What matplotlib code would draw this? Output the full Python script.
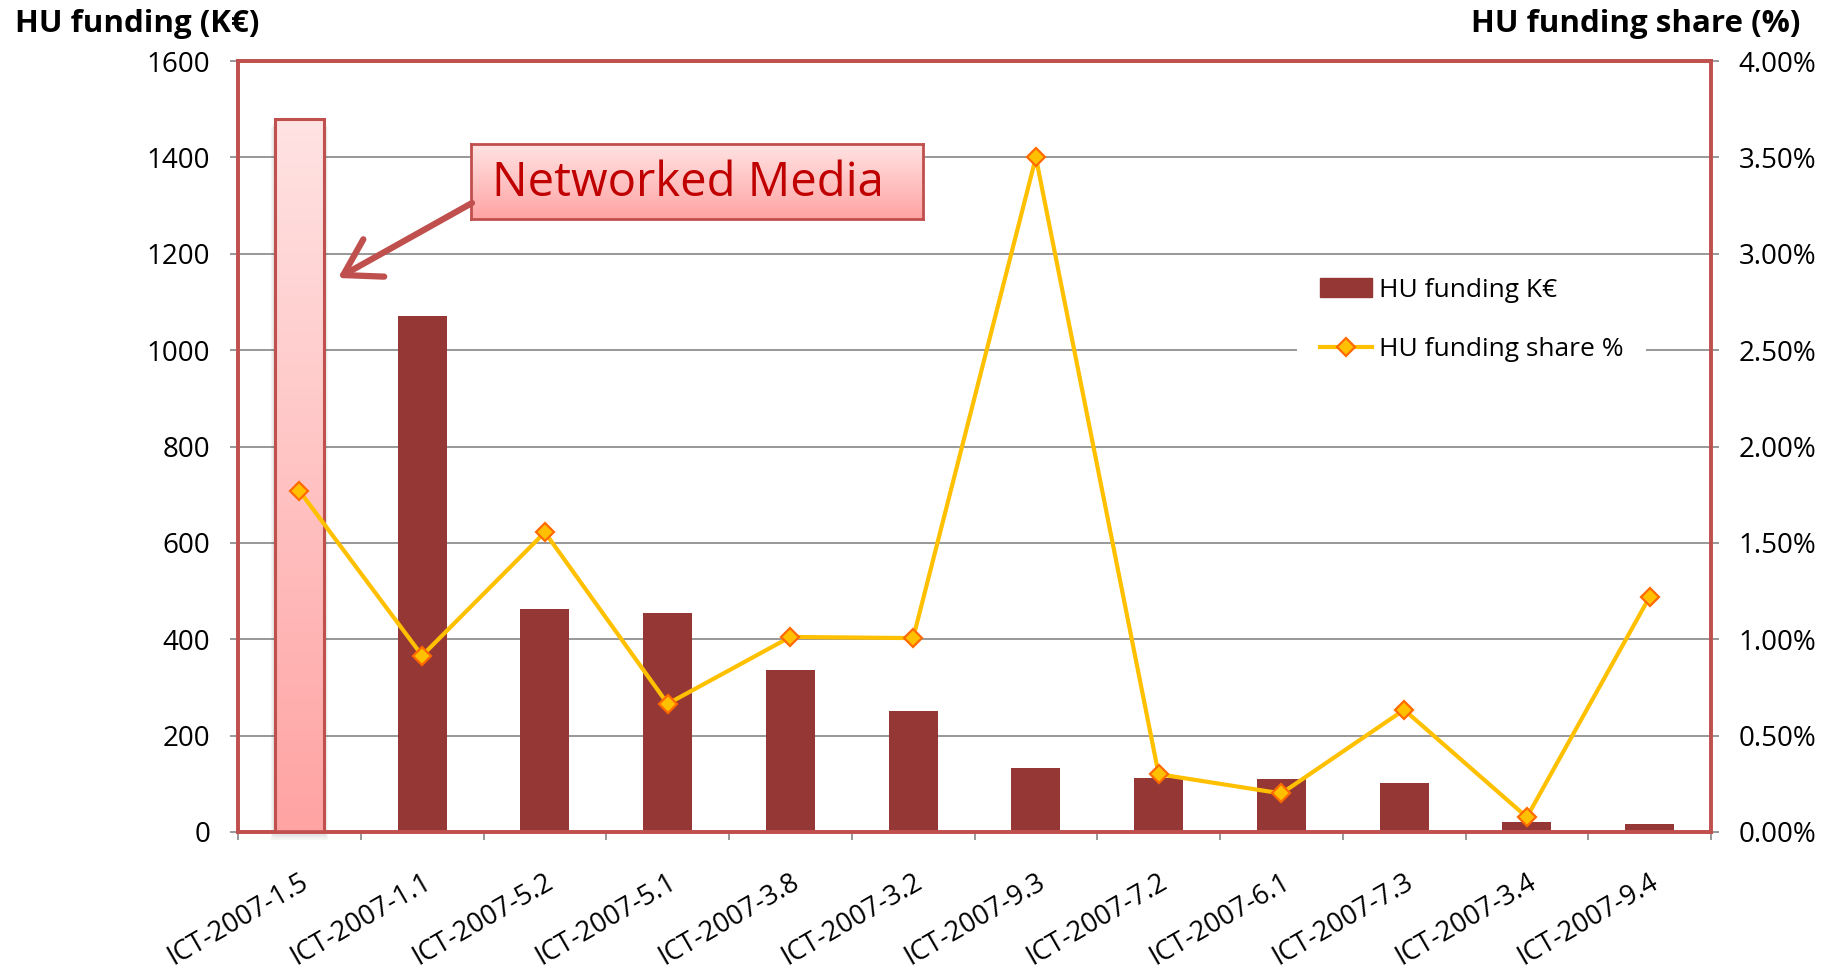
import matplotlib
matplotlib.use("Agg")
import matplotlib.pyplot as plt
import numpy as np
from matplotlib.colors import LinearSegmentedColormap
from matplotlib.lines import Line2D
from matplotlib.patches import FancyArrowPatch, Patch, Rectangle
from matplotlib.ticker import FuncFormatter, MultipleLocator

# datos
CALLS = ["ICT-2007-1.5", "ICT-2007-1.1", "ICT-2007-5.2", "ICT-2007-5.1",
         "ICT-2007-3.8", "ICT-2007-3.2", "ICT-2007-9.3", "ICT-2007-7.2",
         "ICT-2007-6.1", "ICT-2007-7.3", "ICT-2007-3.4", "ICT-2007-9.4"]
FUNDING = [1480, 1071, 462, 454, 337, 252, 132, 113, 110, 102, 21, 16]
SHARE = [1.77, 0.915, 1.555, 0.665, 1.012, 1.006, 3.50, 0.30, 0.20, 0.634, 0.077, 1.22]
HIGHLIGHT = 0
NOTE = "Networked Media"

BAR = "#953735"
FRAME = "#C0504D"
GRID = "#868686"
LINE = "#FFC000"
EDGE = "#FF6A00"
pink = LinearSegmentedColormap.from_list("pink", ["#FFA3A3", "#FFE3E3"])

plt.rcParams.update({"font.family": ["Open Sans", "DejaVu Sans"], "font.size": 18})

fig = plt.figure(figsize=(18.43, 9.68), dpi=100)
ax = fig.add_axes([238 / 1843, 136 / 968, 1473 / 1843, 771 / 968])
ax2 = ax.twinx()

x = np.arange(len(CALLS))
bars = ax.bar(x, FUNDING, width=0.4, color=BAR, zorder=2)

# barra destacada con degradado y sombra suave
hb = bars[HIGHLIGHT]
hb.set_facecolor("none")
hb.set_edgecolor(FRAME)
hb.set_linewidth(2.2)
hb.set_zorder(4)
for k in range(1, 5):
    dx = 0.008 * k
    ax.add_patch(Rectangle((hb.get_x() - dx, -4 * k), hb.get_width() + 2 * dx,
                           hb.get_height(), color="#000000", alpha=0.035,
                           lw=0, zorder=2.5, clip_on=False))
grad = np.linspace(0, 1, 256).reshape(-1, 1)
im = ax.imshow(grad, cmap=pink, aspect="auto", origin="lower", zorder=3,
               extent=[hb.get_x(), hb.get_x() + hb.get_width(), 0, hb.get_height()])
im.set_clip_path(hb)

ax.set_xlim(-0.5, len(CALLS) - 0.5)
ax.set_ylim(0, 1600)
ax.yaxis.set_major_locator(MultipleLocator(200))
ax.grid(axis="y", color=GRID, lw=1.2, zorder=0)
ax.set_axisbelow(True)
ax.set_xticks(np.arange(len(CALLS) + 1) - 0.5)
ax.set_xticklabels([])
ax.set_xticks(x, minor=True)
ax.set_xticklabels(CALLS, minor=True, rotation=30, ha="right", va="top",
                   rotation_mode="anchor", fontsize=19.5)
ax.tick_params(axis="x", which="minor", length=0, pad=26)
ax.tick_params(axis="x", which="major", length=6, color=GRID, width=1.2)
ax.tick_params(axis="y", length=6, color=GRID, width=1.2, pad=14, labelsize=20)

ax2.plot(x, SHARE, color=LINE, lw=3.0, marker="D", ms=9, mfc=LINE,
         mec=EDGE, mew=1.6, zorder=5)
ax2.set_ylim(0, 4)
ax2.yaxis.set_major_locator(MultipleLocator(0.5))
ax2.yaxis.set_major_formatter(FuncFormatter(lambda v, _: f"{v:.2f}%"))
ax2.tick_params(axis="y", length=6, color=GRID, width=1.2, pad=14, labelsize=20)

for a in (ax, ax2):
    for s in a.spines.values():
        s.set_color(FRAME)
        s.set_linewidth(2.6)

fig.text(15 / 1843, 1 - 24 / 968, "HU funding (K€)", fontsize=22.5,
         fontweight="bold", va="center", ha="left")
fig.text(1800 / 1843, 1 - 24 / 968, "HU funding share (%)", fontsize=22.5,
         fontweight="bold", va="center", ha="right")

handles = [Patch(color=BAR),
           Line2D([], [], color=LINE, lw=3.0, marker="D", ms=9, mfc=LINE,
                  mec=EDGE, mew=1.6)]
leg = ax2.legend(handles, ["HU funding K€", "HU funding share %"],
                 loc="upper left", bbox_to_anchor=(0.719, 0.748),
                 borderaxespad=0, borderpad=0.85, labelspacing=1.3,
                 handlelength=2.0, handletextpad=0.25, fontsize=19,
                 frameon=True, fancybox=False)
leg.get_frame().set_facecolor("white")
leg.get_frame().set_edgecolor("none")
leg.get_frame().set_alpha(1)

# recuadro "Networked Media"
bx = fig.add_axes([471 / 1843, 1 - 219 / 968, 452 / 1843, 75 / 968])
bx.imshow(grad, cmap=pink, aspect="auto", origin="lower", extent=[0, 1, 0, 1])
bx.set_xticks([])
bx.set_yticks([])
for s in bx.spines.values():
    s.set_color(FRAME)
    s.set_linewidth(2)
bx.text(0.48, 0.47, NOTE, transform=bx.transAxes, ha="center", va="center",
        fontsize=34, color="#C00000")

fig.add_artist(FancyArrowPatch((472 / 1843, 1 - 203 / 968), (338 / 1843, 1 - 278 / 968),
                               transform=fig.transFigure, color=FRAME, lw=4.5,
                               arrowstyle="->,head_length=0.9,head_width=0.55",
                               mutation_scale=28, shrinkA=0, shrinkB=0,
                               capstyle="round", joinstyle="round"))

fig.savefig("out.png", dpi=100, facecolor="white")
